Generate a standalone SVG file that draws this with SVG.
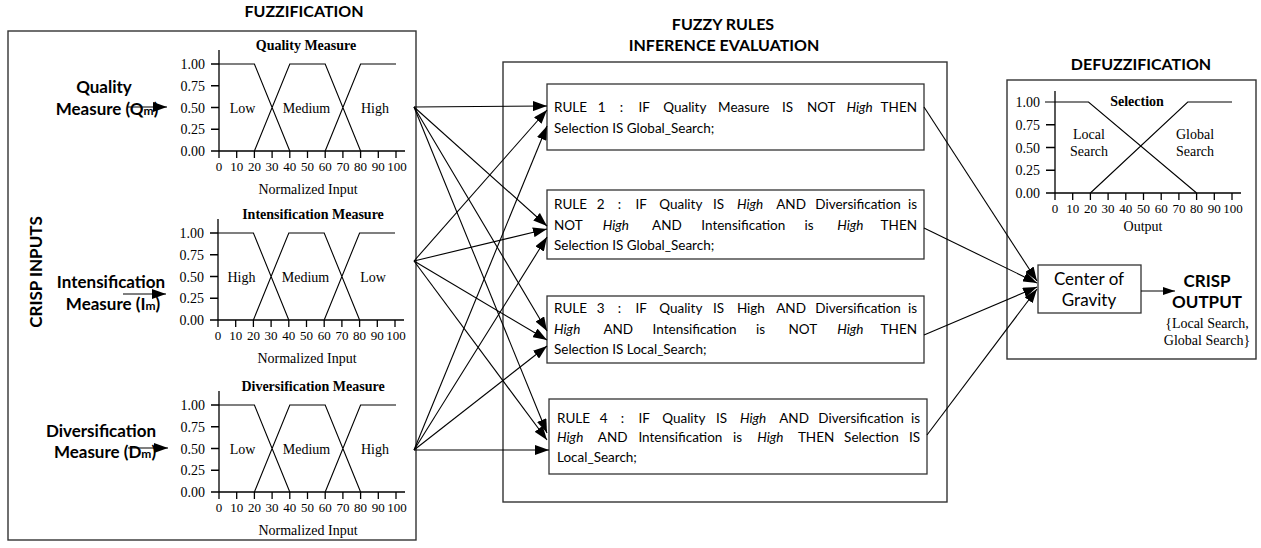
<svg xmlns="http://www.w3.org/2000/svg" width="1261" height="548" viewBox="0 0 1261 548">
<defs>
<marker id="ah" markerUnits="userSpaceOnUse" markerWidth="14" markerHeight="10" refX="14" refY="5" orient="auto"><path d="M0,0 L14,5 L0,10 z" fill="#000"/></marker>
<marker id="ahs" markerUnits="userSpaceOnUse" markerWidth="12" markerHeight="8" refX="12" refY="4" orient="auto"><path d="M0,0 L12,4 L0,8 z" fill="#000"/></marker>
<path id="axis3" d="M0,-101V0H186M-8,-87H0M-8,-65.25H0M-8,-43.5H0M-8,-21.75H0M-8,0H0M0,0V7M17.7,0V7M35.4,0V7M53.1,0V7M70.8,0V7M88.5,0V7M106.2,0V7M123.9,0V7M141.6,0V7M159.3,0V7M177,0V7"/>
<path id="mf3" d="M0,-87H35.4L70.8,0M35.4,0L70.8,-87H106.2L141.6,0M106.2,0L141.6,-87H177"/>
<style>
.box{fill:none;stroke:#333;stroke-width:1.4}
.rbox{fill:#fff;stroke:#333;stroke-width:1.3}
.ln{fill:none;stroke:#000;stroke-width:1.1}
.ax{fill:none;stroke:#000;stroke-width:1.3}
.mf{fill:none;stroke:#000;stroke-width:1.1}
.tn{font-family:"Liberation Serif","Times New Roman",serif;font-size:14px;fill:#000}
.tk{font-size:13px}
.tm{text-anchor:middle}
.te{text-anchor:end}
.tb{font-family:"Liberation Serif","Times New Roman",serif;font-size:14px;font-weight:bold;fill:#000;text-anchor:middle}
.hd{font-family:Lato,"Liberation Sans",sans-serif;font-weight:bold;font-size:16px;fill:#000;text-anchor:middle}
.lb{font-family:Lato,"Liberation Sans",sans-serif;font-weight:bold;font-size:17px;fill:#000;text-anchor:middle}
.rt{font-family:Lato,"Liberation Sans",sans-serif;font-size:13.5px;fill:#000}
.cg{font-family:Lato,"Liberation Sans",sans-serif;font-size:17px;fill:#000;text-anchor:middle}
.it{font-style:italic}
</style>
</defs>
<rect width="1261" height="548" fill="#fff"/>

<!-- titles -->
<text class="hd" x="304" y="17">FUZZIFICATION</text>
<text class="hd" x="723" y="30">FUZZY RULES</text>
<text class="hd" x="724" y="51">INFERENCE EVALUATION</text>
<text class="hd" x="1141" y="70">DEFUZZIFICATION</text>

<!-- fuzzification block -->
<g id="fuzzification">
<rect class="box" x="8" y="31" width="408" height="509"/>
<text class="lb" transform="translate(42,272) rotate(-90)">CRISP INPUTS</text>
</g>

<g id="input-quality">
<text class="lb" x="104" y="93">Quality</text>
<text class="lb" x="107" y="115">Measure (Q<tspan font-size="12">m</tspan>)</text>
<line class="ln" x1="128" y1="107" x2="167" y2="107" marker-end="url(#ah)"/>
</g>
<g id="chart-quality" transform="translate(219,151)">
<use href="#axis3" class="ax"/>
<use href="#mf3" class="mf"/>
<text class="tb" x="87" y="-101">Quality Measure</text>
<g class="tn te"><text x="-14" y="-82">1.00</text><text x="-14" y="-60.25">0.75</text><text x="-14" y="-38.5">0.50</text><text x="-14" y="-16.75">0.25</text><text x="-14" y="5">0.00</text></g>
<g class="tn tm"><g class="tk"><text x="0" y="20">0</text><text x="17.7" y="20">10</text><text x="35.4" y="20">20</text><text x="53.1" y="20">30</text><text x="70.8" y="20">40</text><text x="88.5" y="20">50</text><text x="106.2" y="20">60</text><text x="123.9" y="20">70</text><text x="141.6" y="20">80</text><text x="159.3" y="20">90</text><text x="178" y="20">100</text></g>
<text x="23.5" y="-38.5">Low</text><text x="87.5" y="-38.5">Medium</text><text x="156" y="-38.5">High</text>
<text x="89" y="43">Normalized Input</text></g>
</g>

<g id="input-intensification">
<text class="lb" x="111" y="288">Intensification</text>
<text class="lb" x="113" y="310">Measure (I<tspan font-size="12">m</tspan>)</text>
<line class="ln" x1="123" y1="294" x2="166" y2="294" marker-end="url(#ah)"/>
</g>
<g id="chart-intensification" transform="translate(218,320)">
<use href="#axis3" class="ax"/>
<use href="#mf3" class="mf"/>
<text class="tb" x="95" y="-101">Intensification Measure</text>
<g class="tn te"><text x="-14" y="-82">1.00</text><text x="-14" y="-60.25">0.75</text><text x="-14" y="-38.5">0.50</text><text x="-14" y="-16.75">0.25</text><text x="-14" y="5">0.00</text></g>
<g class="tn tm"><g class="tk"><text x="0" y="20">0</text><text x="17.7" y="20">10</text><text x="35.4" y="20">20</text><text x="53.1" y="20">30</text><text x="70.8" y="20">40</text><text x="88.5" y="20">50</text><text x="106.2" y="20">60</text><text x="123.9" y="20">70</text><text x="141.6" y="20">80</text><text x="159.3" y="20">90</text><text x="178" y="20">100</text></g>
<text x="23.5" y="-38.5">High</text><text x="87.5" y="-38.5">Medium</text><text x="155" y="-38.5">Low</text>
<text x="89" y="43">Normalized Input</text></g>
</g>

<g id="input-diversification">
<text class="lb" x="101" y="437">Diversification</text>
<text class="lb" x="105" y="458">Measure (D<tspan font-size="12">m</tspan>)</text>
<line class="ln" x1="128" y1="448" x2="168" y2="448" marker-end="url(#ah)"/>
</g>
<g id="chart-diversification" transform="translate(219,492)">
<use href="#axis3" class="ax"/>
<use href="#mf3" class="mf"/>
<text class="tb" x="94" y="-101">Diversification Measure</text>
<g class="tn te"><text x="-14" y="-82">1.00</text><text x="-14" y="-60.25">0.75</text><text x="-14" y="-38.5">0.50</text><text x="-14" y="-16.75">0.25</text><text x="-14" y="5">0.00</text></g>
<g class="tn tm"><g class="tk"><text x="0" y="20">0</text><text x="17.7" y="20">10</text><text x="35.4" y="20">20</text><text x="53.1" y="20">30</text><text x="70.8" y="20">40</text><text x="88.5" y="20">50</text><text x="106.2" y="20">60</text><text x="123.9" y="20">70</text><text x="141.6" y="20">80</text><text x="159.3" y="20">90</text><text x="178" y="20">100</text></g>
<text x="23.5" y="-38.5">Low</text><text x="87.5" y="-38.5">Medium</text><text x="156" y="-38.5">High</text>
<text x="89" y="43">Normalized Input</text></g>
</g>

<!-- rules block -->
<g id="rules-frame"><rect class="box" x="503" y="62" width="444" height="440"/></g>

<g id="rule1">
<rect class="rbox" x="547" y="84" width="377" height="66"/>
<text class="rt" y="112"><tspan x="554">RULE</tspan><tspan x="597.7">1</tspan><tspan x="619.7">:</tspan><tspan x="638.4">IF</tspan><tspan x="663.2">Quality</tspan><tspan x="718.1">Measure</tspan><tspan x="782.1">IS</tspan><tspan x="806.9">NOT</tspan><tspan x="846.4" class="it">High</tspan></text>
<text class="rt te" x="917" y="112">THEN</text>
<text class="rt" x="554" y="133">Selection IS Global_Search;</text>
</g>

<g id="rule2">
<rect class="rbox" x="547" y="190" width="377" height="69"/>
<text class="rt" y="209"><tspan x="554">RULE</tspan><tspan x="596.7">2</tspan><tspan x="617.7">:</tspan><tspan x="635.4">IF</tspan><tspan x="659.2">Quality</tspan><tspan x="713.1">IS</tspan><tspan x="736.9" class="it">High</tspan><tspan x="776.2">AND</tspan><tspan x="815.3">Diversification</tspan></text>
<text class="rt te" x="917" y="209">is</text>
<text class="rt" y="230"><tspan x="554">NOT</tspan><tspan x="602.7" class="it">High</tspan><tspan x="652">AND</tspan><tspan x="701.3">Intensification</tspan><tspan x="804.5">is</tspan><tspan x="837.2" class="it">High</tspan></text>
<text class="rt te" x="917" y="230">THEN</text>
<text class="rt" x="554" y="250">Selection IS Global_Search;</text>
</g>

<g id="rule3">
<rect class="rbox" x="547" y="296" width="377" height="67"/>
<text class="rt" y="313"><tspan x="554">RULE</tspan><tspan x="596.7">3</tspan><tspan x="617.7">:</tspan><tspan x="635.4">IF</tspan><tspan x="659.2">Quality</tspan><tspan x="713.1">IS</tspan><tspan x="736.9">High</tspan><tspan x="776.2">AND</tspan><tspan x="815.3">Diversification</tspan></text>
<text class="rt te" x="917" y="313">is</text>
<text class="rt" y="334"><tspan x="554" class="it">High</tspan><tspan x="603.4">AND</tspan><tspan x="652.6">Intensification</tspan><tspan x="755.9">is</tspan><tspan x="788.5">NOT</tspan><tspan x="837.2" class="it">High</tspan></text>
<text class="rt te" x="917" y="334">THEN</text>
<text class="rt" x="554" y="354">Selection IS Local_Search;</text>
</g>

<g id="rule4">
<rect class="rbox" x="549" y="399" width="378" height="75"/>
<text class="rt" y="423"><tspan x="557">RULE</tspan><tspan x="599.7">4</tspan><tspan x="620.7">:</tspan><tspan x="638.4">IF</tspan><tspan x="662.2">Quality</tspan><tspan x="716.1">IS</tspan><tspan x="739.9" class="it">High</tspan><tspan x="779.2">AND</tspan><tspan x="818.3">Diversification</tspan></text>
<text class="rt te" x="920" y="423">is</text>
<text class="rt" y="442"><tspan x="557" class="it">High</tspan><tspan x="597.8">AND</tspan><tspan x="638.4">Intensification</tspan><tspan x="733.1">is</tspan><tspan x="757.2" class="it">High</tspan><tspan x="797.9">THEN</tspan><tspan x="844.1">Selection</tspan></text>
<text class="rt te" x="920" y="442">IS</text>
<text class="rt" x="557" y="462">Local_Search;</text>
</g>

<!-- defuzzification -->
<g id="defuzzification">
<rect class="box" x="1007" y="80" width="249" height="279"/>
</g>
<g id="chart-selection" transform="translate(1055,193)">
<path class="ax" d="M0,-102V0H186M-9,-68.25H0M-9,-45.5H0M-9,-22.75H0M-9,0H0M0,0V7M17.7,0V7M35.4,0V7M53.1,0V7M70.8,0V7M88.5,0V7M106.2,0V7M123.9,0V7M141.6,0V7M159.3,0V7M177,0V7"/>
<path class="mf" d="M-10,-91H33.5L141.6,0M35.4,0L132.75,-91H177"/>
<text class="tb" x="82" y="-87">Selection</text>
<g class="tn te"><text x="-15" y="-86">1.00</text><text x="-15" y="-63.25">0.75</text><text x="-15" y="-40.5">0.50</text><text x="-15" y="-17.75">0.25</text><text x="-15" y="5">0.00</text></g>
<g class="tn tm"><g class="tk"><text x="0" y="20">0</text><text x="17.7" y="20">10</text><text x="35.4" y="20">20</text><text x="53.1" y="20">30</text><text x="70.8" y="20">40</text><text x="88.5" y="20">50</text><text x="106.2" y="20">60</text><text x="123.9" y="20">70</text><text x="141.6" y="20">80</text><text x="159.3" y="20">90</text><text x="178" y="20">100</text></g>
<text x="34" y="-54">Local</text><text x="34" y="-37">Search</text>
<text x="140" y="-54">Global</text><text x="140" y="-37">Search</text>
<text x="88" y="38">Output</text></g>
</g>

<g id="center-of-gravity">
<rect class="rbox" x="1038" y="265" width="103" height="48"/>
<text class="cg" x="1089" y="285">Center of</text>
<text class="cg" x="1089" y="306">Gravity</text>
</g>

<g id="crisp-output">
<text class="lb" x="1207" y="287">CRISP</text>
<text class="lb" x="1207" y="308">OUTPUT</text>
<text class="tn tm" x="1207" y="328" font-size="13">{Local Search,</text>
<text class="tn tm" x="1207" y="345" font-size="13">Global Search}</text>
</g>

<!-- connectors -->
<g id="connectors" class="ln">
<line x1="414" y1="107" x2="547" y2="106" marker-end="url(#ah)"/>
<line x1="414" y1="107" x2="547" y2="226" marker-end="url(#ah)"/>
<line x1="414" y1="107" x2="547" y2="331" marker-end="url(#ah)"/>
<line x1="414" y1="107" x2="547" y2="433" marker-end="url(#ah)"/>
<line x1="414" y1="261" x2="547" y2="110" marker-end="url(#ah)"/>
<line x1="414" y1="261" x2="547" y2="229" marker-end="url(#ah)"/>
<line x1="414" y1="261" x2="547" y2="340" marker-end="url(#ah)"/>
<line x1="414" y1="261" x2="547" y2="440" marker-end="url(#ah)"/>
<line x1="414" y1="450" x2="547" y2="126" marker-end="url(#ah)"/>
<line x1="414" y1="450" x2="547" y2="237" marker-end="url(#ah)"/>
<line x1="414" y1="450" x2="547" y2="346" marker-end="url(#ah)"/>
<line x1="414" y1="450" x2="549" y2="450" marker-end="url(#ah)"/>
<line x1="924" y1="107" x2="1037" y2="281" marker-end="url(#ah)"/>
<line x1="924" y1="228" x2="1037" y2="283" marker-end="url(#ah)"/>
<line x1="924" y1="335" x2="1037" y2="287" marker-end="url(#ah)"/>
<line x1="927" y1="435" x2="1037" y2="289" marker-end="url(#ah)"/>
<line x1="1141" y1="291" x2="1175" y2="291" marker-end="url(#ahs)"/>
</g>
</svg>
